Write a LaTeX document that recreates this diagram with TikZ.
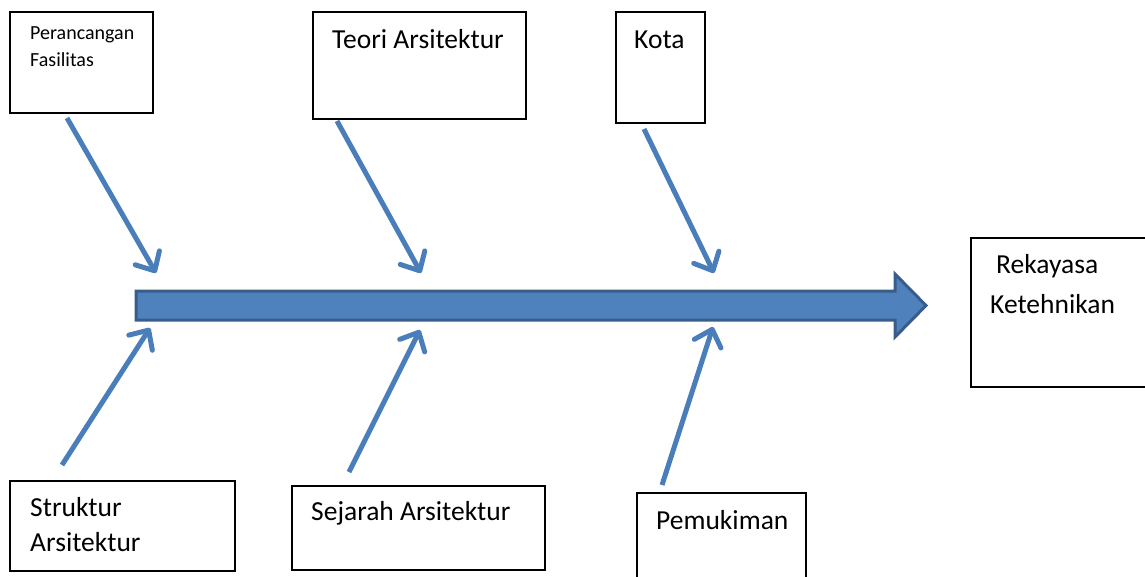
\documentclass[tikz,border=0pt]{standalone}
\usepackage{fontspec}
\setmainfont{Carlito}
\usetikzlibrary{arrows.meta}
\definecolor{spine}{HTML}{4F81BD}
\definecolor{spineedge}{HTML}{385D8A}
\definecolor{bone}{HTML}{4A7EBB}
\tikzset{
  box/.style={draw=black, line width=1.2pt, fill=white},
  small/.style={font=\fontsize{20}{24}\selectfont, anchor=base west, inner sep=0pt},
  big/.style={font=\fontsize{27.5}{33}\selectfont, anchor=base west, inner sep=0pt},
  bonearrow/.style={draw=bone, line width=5pt,
    -{Straight Barb[length=15pt,width=28pt,line cap=round,line join=round]}},
}
\begin{document}
\begin{tikzpicture}[x=1pt,y=-1pt]
\useasboundingbox (0,0) rectangle (1145,577);

% cause boxes
\draw[box] (10,12) rectangle (153,113);
\node[small] (pf1) at (30,40) {Perancangan};
\node[small] (pf2) at (30,67) {Fasilitas};

\draw[box] (313,12) rectangle (526,119);
\node[big] (ta) at (332,49) {Teori Arsitektur};

\draw[box] (616,12) rectangle (705,123);
\node[big] (kt) at (634,49) {Kota};

\draw[box] (10,481) rectangle (235,571);
\node[big] (sa1) at (30,516) {Struktur};
\node[big] (sa2) at (30,551) {Arsitektur};

\draw[box] (292,486) rectangle (545,570);
\node[big] (sj) at (311,520) {Sejarah Arsitektur};

\draw[box] (637,493) rectangle (806,590);
\node[big] (pm) at (656,529) {Pemukiman};

% effect box
\draw[box] (971,238) rectangle (1160,387);
\node[big] (rk1) at (996,273) {Rekayasa};
\node[big] (rk2) at (990,313) {Ketehnikan};

% spine
\draw[fill=spine, draw=spineedge, line width=3pt, line join=miter]
  (136,291) -- (895,291) -- (895,274) -- (926,305.5) -- (895,337) -- (895,320) -- (136,320) -- cycle;

% bone start and end points
\coordinate (s1) at (67,118);   \coordinate (e1) at (156,273);
\coordinate (s2) at (337,121);  \coordinate (e2) at (421,273);
\coordinate (s3) at (644,129);  \coordinate (e3) at (714,273);
\coordinate (s4) at (62,465);   \coordinate (e4) at (150,328);
\coordinate (s5) at (349,472);  \coordinate (e5) at (420,330);
\coordinate (s6) at (662,485);  \coordinate (e6) at (713,327);

\foreach \i in {1,...,6} \draw[bonearrow] (s\i) -- (e\i);
\end{tikzpicture}
\end{document}
